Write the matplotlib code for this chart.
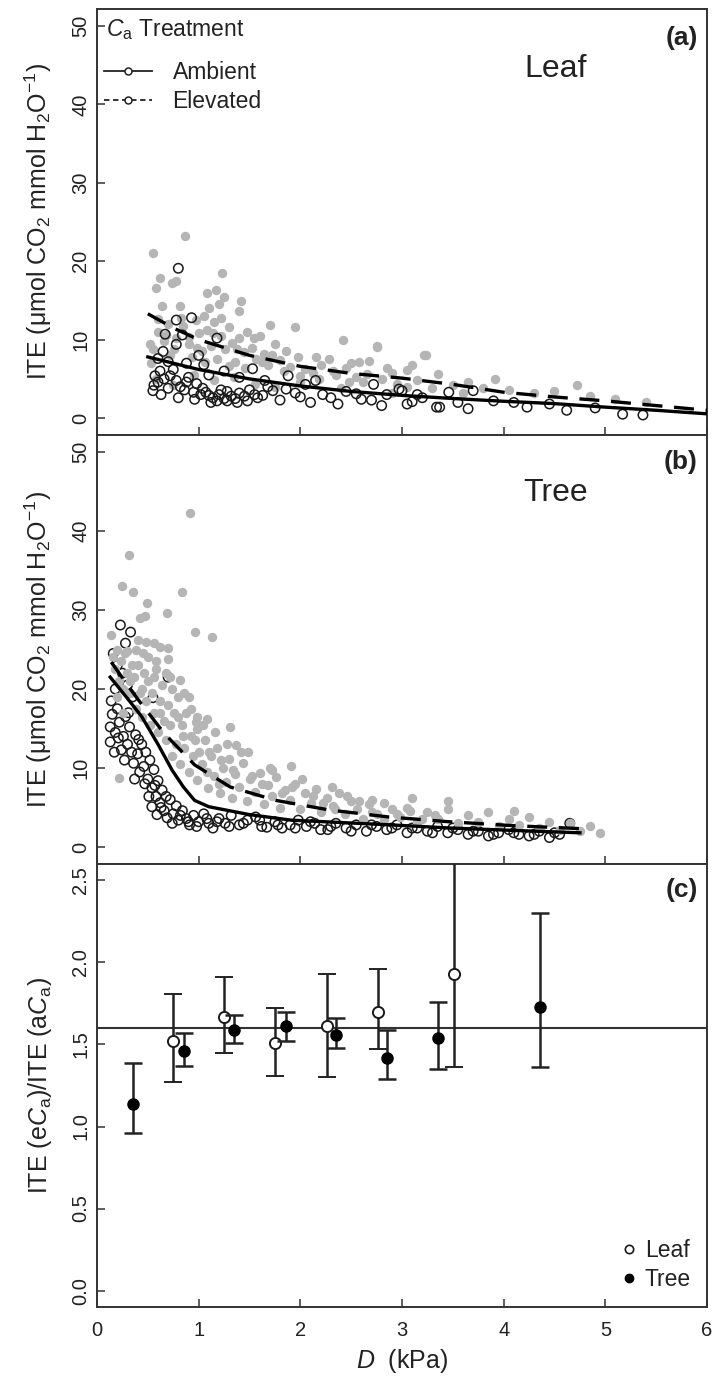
import matplotlib
matplotlib.use('Agg')
import matplotlib.pyplot as plt
from matplotlib.lines import Line2D
import numpy as np

plt.rcParams['font.family'] = ['Liberation Sans', 'DejaVu Sans']
plt.rcParams['mathtext.fontset'] = 'custom'
plt.rcParams['mathtext.rm'] = 'Liberation Sans'
plt.rcParams['mathtext.it'] = 'Liberation Sans:italic'
plt.rcParams['mathtext.bf'] = 'Liberation Sans:bold'

# ---- panel (a) leaf ----
leaf_e_D = [0.55, 0.87, 0.58, 0.62, 0.74, 0.78, 0.64, 0.82, 1.23, 1.08, 1.17, 1.25, 1.42, 1.40, 1.10, 1.20,
            1.70, 1.95, 2.42, 2.75, 2.15, 2.28, 3.22, 3.10, 2.50, 2.58, 2.68, 2.75, 3.24, 3.91, 4.72, 2.90, 3.05,
            0.52, 0.55, 0.60, 0.66, 0.70, 0.72, 0.78, 0.85, 0.90, 0.93, 0.97, 1.00, 1.03, 1.05, 1.08, 1.12,
            1.15, 1.18, 1.22, 1.26, 1.30, 1.33, 1.36, 1.40, 1.45, 1.48, 1.52, 1.56, 1.60, 1.64, 1.68, 1.75,
            1.80, 1.86, 1.90, 1.98, 2.05, 2.12, 2.20, 2.35, 2.45, 2.55, 2.62, 2.80, 2.95, 3.15, 3.35, 3.50,
            3.65, 3.80, 4.05, 4.30, 4.50, 4.85, 5.10, 5.40,
            0.58, 0.75, 0.95, 1.15, 1.35, 1.55, 1.75, 2.00, 2.40, 2.90,
            0.53, 0.60, 0.68, 0.76, 0.83, 0.90, 0.98, 1.06, 1.14, 1.22, 1.30, 1.38, 1.46, 1.54, 1.62, 1.72,
            1.84, 2.00, 2.18, 2.32, 2.48, 2.66, 2.85, 3.05, 3.30, 3.60]
leaf_e_ite = [21.0, 23.2, 16.6, 17.8, 17.2, 17.5, 14.3, 14.3, 18.5, 15.9, 16.3, 15.4, 14.9, 13.6, 14.0, 14.5,
              11.9, 11.6, 9.9, 9.1, 7.8, 7.6, 8.1, 6.8, 7.0, 7.2, 7.3, 9.2, 8.1, 5.0, 4.2, 5.8, 6.1,
              9.5, 8.8, 11.0, 9.8, 12.0, 8.0, 10.2, 11.8, 9.5, 7.8, 12.5, 10.8, 8.6, 13.0, 11.2, 9.2,
              12.2, 7.5, 10.5, 8.8, 11.6, 9.6, 7.2, 10.2, 8.4, 11.0, 9.0, 7.6, 10.5, 8.2, 6.8, 9.4,
              7.4, 8.6, 6.5, 7.8, 6.2, 5.8, 6.8, 5.5, 6.4, 5.2, 4.6, 5.0, 4.4, 4.8, 5.6, 4.2,
              4.6, 3.8, 3.6, 3.2, 3.4, 2.8, 2.4, 2.0,
              5.0, 4.2, 5.5, 4.8, 5.2, 4.4, 4.0, 4.6, 3.8, 3.2,
              7.0, 12.6, 10.6, 8.8, 12.8, 10.4, 9.0, 7.2, 10.8, 12.8, 6.6, 8.8, 6.4, 10.2, 7.2, 8.0,
              6.0, 5.4, 5.0, 6.0, 4.6, 5.6, 6.4, 4.0, 3.8, 3.2]

leaf_a_D = [0.55, 0.57, 0.60, 0.62, 0.66, 0.70, 0.75, 0.78, 0.82, 0.86, 0.90, 0.95, 0.98, 1.02, 1.07, 1.10,
            1.14, 1.18, 1.22, 1.25, 1.28, 1.32, 1.36, 1.40, 1.45, 1.50, 1.55, 1.63, 1.73, 1.86, 2.00, 2.05,
            2.15, 2.22, 2.37, 2.45, 2.60, 2.70, 2.72, 2.85, 2.97, 3.00, 3.05, 3.10, 3.20, 3.34, 3.37, 3.46,
            3.65, 3.70, 3.90, 4.10, 4.23, 4.45, 4.62, 4.90, 5.17, 5.37,
            0.78, 0.93, 0.67, 0.84, 1.18, 0.78, 0.65, 1.53, 1.88, 0.80, 0.70, 1.00, 1.05, 1.25, 1.40, 0.88,
            1.65, 1.10, 0.60,
            0.56, 0.63, 0.72, 0.80, 0.88, 0.96, 1.04, 1.12, 1.20, 1.28, 1.38, 1.48, 1.58, 1.68, 1.80, 1.95,
            2.10, 2.30, 2.55, 2.80, 3.15, 3.55]
leaf_a_ite = [3.5, 5.4, 4.6, 6.0, 5.0, 3.8, 6.2, 4.8, 4.0, 3.6, 5.2, 3.3, 4.4, 3.0, 3.3, 2.9,
              2.6, 2.2, 3.6, 2.5, 2.2, 2.8, 2.5, 3.2, 2.8, 3.6, 3.0, 2.9, 3.5, 3.7, 2.7, 4.3,
              4.8, 3.0, 1.8, 3.4, 2.4, 2.3, 4.3, 3.0, 3.7, 3.5, 1.8, 2.1, 2.6, 1.4, 1.4, 3.3,
              1.2, 3.5, 2.2, 2.0, 1.4, 1.8, 1.0, 1.3, 0.5, 0.4,
              12.5, 12.8, 10.7, 10.6, 10.2, 9.4, 8.5, 6.3, 5.4, 19.1, 7.2, 8.0, 6.8, 6.0, 5.2, 7.0,
              4.8, 5.5, 7.6,
              4.2, 3.0, 5.4, 2.6, 4.6, 2.4, 3.8, 2.0, 3.0, 3.4, 2.0, 2.2, 2.6, 4.0, 2.3, 3.2,
              2.0, 2.6, 3.1, 1.6, 3.0, 2.0]

leaf_fit_D = [0.5, 0.75, 1.0, 1.5, 2.0, 2.5, 3.0, 3.5, 4.0, 4.5, 5.0, 5.5, 6.0]
leaf_fit_amb = [7.8, 7.0, 6.2, 5.0, 4.1, 3.4, 2.9, 2.5, 2.15, 1.85, 1.4, 1.0, 0.55]
leaf_fit_elev = [13.3, 11.5, 10.0, 8.0, 6.6, 5.7, 5.1, 4.3, 3.3, 2.7, 2.2, 1.6, 1.0]

# ---- panel (b) tree ----
tree_e_D = [0.91, 0.31, 0.25, 0.35, 0.84, 0.49, 0.69, 0.42, 0.47, 0.96, 1.13, 0.14, 0.40, 0.48, 0.56, 0.62,
            0.70, 0.70, 0.82, 0.90, 0.98, 1.08, 1.31, 1.37, 1.49, 1.70, 1.91, 2.31, 3.10, 0.22,
            0.16, 0.18, 0.20, 0.22, 0.24, 0.26, 0.28, 0.30, 0.32, 0.34,
            0.36, 0.38, 0.40, 0.42, 0.44, 0.46, 0.48, 0.50, 0.52, 0.54, 0.56, 0.58, 0.60, 0.62, 0.64, 0.66,
            0.68, 0.70, 0.72, 0.74, 0.76, 0.78, 0.80, 0.82, 0.84, 0.86, 0.88, 0.90, 0.92, 0.94, 0.96, 0.98, 1.00,
            1.03, 1.06, 1.09, 1.12, 1.15, 1.18, 1.21, 1.24, 1.27, 1.30, 1.33, 1.36, 1.40, 1.44, 1.48, 1.50,
            1.55, 1.60, 1.64, 1.68, 1.72, 1.76, 1.80, 1.85, 1.90, 1.95, 2.00, 2.05, 2.10, 2.15, 2.20, 2.26,
            2.32, 2.38, 2.44, 2.50,
            2.56, 2.62, 2.68, 2.75, 2.82, 2.90, 2.98, 3.05, 3.15, 3.25, 3.35, 3.45, 3.55, 3.65, 3.75, 3.85,
            3.95, 4.05, 4.15, 4.25, 4.35, 4.45, 4.55, 4.65, 4.75, 4.85, 4.95, 3.45, 4.10, 2.70,
            0.20, 0.26, 0.32, 0.38, 0.44, 0.50, 0.56, 0.62, 0.68, 0.74, 0.80, 0.86, 0.92, 0.98, 1.04, 1.10,
            1.16, 1.22, 1.28, 1.34, 1.42, 1.52, 1.62, 1.72, 1.82, 1.92, 2.02, 2.12, 2.22, 2.34, 2.46, 2.58,
            2.70, 2.82, 2.95, 3.08, 3.20, 3.32, 0.30, 0.45, 0.58, 0.72, 0.85, 0.97, 1.08, 1.20]
tree_e_ite = [42.3, 37.0, 33.0, 32.3, 32.3, 30.9, 29.6, 29.0, 29.2, 27.2, 26.6, 26.8, 26.2, 26.0, 25.8, 25.3,
              25.2, 23.8, 21.1, 19.0, 16.5, 16.2, 15.2, 12.9, 12.0, 10.0, 10.2, 7.6, 6.2, 8.7,
              24.0, 22.5, 25.0, 21.0, 23.5, 20.0, 24.5, 22.0, 19.5, 23.0,
              21.5, 17.5, 23.0, 19.5, 16.5, 22.0, 18.5, 21.0, 15.5, 19.5, 17.0, 22.5, 14.5, 18.5, 20.5, 16.0,
              13.5, 18.0, 15.5, 11.5, 17.0, 13.0, 19.0, 10.5, 15.5, 12.5, 17.0, 9.5, 14.0, 11.5, 13.5, 8.5, 12.0,
              10.5, 13.5, 7.5, 11.5, 9.0, 12.5, 6.8, 10.0, 8.2, 11.2, 6.2, 9.2, 7.6, 10.6, 5.8, 8.6,
              7.0, 9.4, 5.4, 7.8, 6.4, 8.8, 5.0, 7.2, 6.0, 8.0, 4.8, 6.8, 5.6, 7.4, 4.4, 6.2,
              5.2, 6.8, 4.2, 5.8,
              4.8, 3.6, 5.4, 4.2, 3.4, 4.8, 3.8, 5.0, 3.2, 4.4, 3.6, 4.8, 3.0, 4.0, 3.2, 4.4,
              2.6, 3.6, 2.8, 3.8, 2.4, 3.2, 2.2, 3.0, 2.0, 2.6, 1.8, 5.8, 4.6, 6.0,
              19.0, 17.0, 21.0, 25.0, 20.0, 24.0, 21.5, 17.0, 22.0, 20.0, 16.5, 19.5, 17.5, 15.0, 15.5, 12.0,
              14.5, 11.0, 13.0, 9.8, 12.0, 9.0, 8.0, 9.8, 6.8, 7.6, 8.6, 6.4, 5.6, 4.8, 6.4, 5.8,
              4.4, 5.6, 4.2, 4.6, 3.6, 4.0, 24.8, 24.5, 23.5, 21.5, 14.0, 15.8, 9.5, 8.0]

tree_a_D = [0.23, 0.33, 0.28, 0.70, 0.55, 0.16, 0.20, 0.25, 0.30, 0.18, 0.35,
            0.13, 0.13, 0.24, 0.36, 0.42, 0.15, 0.18, 0.20, 0.22, 0.26, 0.28, 0.30, 0.32, 0.34, 0.38, 0.40,
            0.44, 0.46, 0.48, 0.50, 0.52, 0.54, 0.56, 0.58, 0.60, 0.54, 0.59, 0.62, 0.64, 0.66, 0.69, 0.72,
            0.75, 0.78, 0.80, 0.84, 0.88, 0.91, 0.95, 1.00, 1.05, 1.10, 1.14, 1.20, 1.26, 1.32, 1.40, 1.48,
            1.56, 1.62, 1.67, 1.75, 1.82, 1.90, 1.98, 2.06, 2.14, 2.20, 2.27, 2.35, 2.45, 2.55, 2.65, 2.75,
            2.85, 2.95, 3.05, 3.15, 3.25, 3.35, 3.45, 3.55, 3.65, 3.75, 3.85, 3.95, 4.05, 4.15, 4.25, 4.35,
            4.45, 4.55, 4.65,
            0.14, 0.17, 0.21, 0.27, 0.31, 0.37, 0.41, 0.47, 0.51, 0.57, 0.63, 0.68, 0.74, 0.82, 0.90, 0.98,
            1.08, 1.18, 1.30, 1.44, 1.60, 1.78, 1.95, 2.10, 2.30, 2.50, 2.70, 2.90, 3.10, 3.30, 3.50, 3.70,
            3.90, 4.10, 4.30, 4.50]
tree_a_ite = [28.1, 27.2, 25.8, 21.5, 18.9, 24.5, 23.0, 22.0, 20.5, 20.0, 19.0,
              15.2, 13.3, 12.3, 10.6, 9.5, 16.8, 14.5, 17.5, 15.8, 14.0, 16.5, 13.0, 15.2, 12.0, 14.2, 11.8,
              13.0, 10.2, 12.0, 8.6, 11.0, 7.5, 9.8, 6.4, 8.4, 5.1, 4.1, 5.6, 7.2, 4.6, 3.7, 6.0,
              4.2, 5.2, 3.4, 4.6, 3.6, 2.8, 4.0, 3.2, 4.2, 3.0, 2.4, 3.6, 3.0, 4.0, 2.8, 3.4,
              3.8, 2.6, 2.5, 3.2, 2.4, 2.8, 3.4, 2.6, 3.0, 2.2, 2.2, 3.0, 2.4, 2.8, 2.0, 2.6,
              2.2, 2.8, 1.8, 2.4, 2.0, 2.6, 1.8, 2.2, 1.6, 2.0, 1.4, 1.8, 2.2, 1.6, 1.4, 2.0,
              1.2, 1.6, 3.0,
              18.5, 12.0, 13.8, 11.0, 17.0, 8.6, 13.6, 8.0, 6.4, 7.8, 5.0, 6.4, 3.0, 4.0, 3.2, 2.6,
              3.6, 3.2, 2.6, 3.0, 3.4, 2.8, 2.4, 3.2, 2.6, 2.0, 2.8, 2.4, 2.4, 1.8, 2.4, 2.0,
              1.6, 1.8, 1.6, 1.8]

tree_fit_amb_D = [0.13, 0.3, 0.44, 0.6, 0.74, 0.85, 0.96, 1.1, 1.26, 1.5, 1.91, 2.4, 2.89, 3.48, 4.1, 4.75]
tree_fit_amb = [21.5, 18.8, 16.5, 13.0, 9.7, 7.6, 5.9, 5.1, 4.7, 4.1, 3.4, 3.1, 2.8, 2.4, 2.1, 1.8]
tree_fit_elev_D = [0.14, 0.39, 0.66, 0.96, 1.31, 1.76, 2.28, 2.87, 3.46, 4.1, 4.8]
tree_fit_elev = [23.4, 18.9, 14.4, 10.4, 7.6, 5.9, 4.7, 3.8, 3.2, 2.7, 2.3]

# ---- panel (c) ratio ----
ratio_leaf_D = [0.75, 1.25, 1.75, 2.26, 2.76, 3.51]
ratio_leaf = [1.52, 1.67, 1.51, 1.61, 1.70, 1.93]
ratio_leaf_lo = [1.27, 1.45, 1.31, 1.30, 1.47, 1.36]
ratio_leaf_hi = [1.81, 1.91, 1.72, 1.93, 1.96, 2.75]
ratio_tree_D = [0.35, 0.86, 1.35, 1.86, 2.35, 2.85, 3.35, 4.36]
ratio_tree = [1.14, 1.46, 1.59, 1.61, 1.56, 1.42, 1.54, 1.73]
ratio_tree_lo = [0.96, 1.37, 1.51, 1.52, 1.48, 1.29, 1.35, 1.36]
ratio_tree_hi = [1.39, 1.57, 1.68, 1.70, 1.66, 1.59, 1.76, 2.30]
ratio_ref = 1.6

W, H = 714, 1383
fig = plt.figure(figsize=(W / 100, H / 100), dpi=100)


def rect(top, bottom):
    return [97 / W, 1 - bottom / H, 610 / W, (bottom - top) / H]


ax_a = fig.add_axes(rect(9, 435))
ax_b = fig.add_axes(rect(435, 864))
ax_c = fig.add_axes(rect(864, 1307))

txt = '#222222'
grey = '#b5b5b5'
ylab = 'ITE (μmol CO$_2$ mmol H$_2$O$^{-1}$)'

for ax in (ax_a, ax_b, ax_c):
    ax.set_xlim(0, 6)
    ax.set_xticks(range(7))
    ax.tick_params(direction='in', length=6, width=1.1, colors='#333333', labelcolor=txt, labelsize=14.5)
    ax.tick_params(axis='y', pad=5)
    for s in ax.spines.values():
        s.set_linewidth(1.4)
        s.set_color('#333333')

for ax in (ax_a, ax_b):
    ax.set_ylim(-2.15, 52.15)
    ax.set_yticks([0, 10, 20, 30, 40, 50])
    ax.tick_params(axis='x', labelbottom=False)
    ax.set_ylabel(ylab, fontsize=18, color=txt)
    ax.yaxis.set_label_coords(-0.07, 0.5)

# (a)
ax_a.scatter(leaf_e_D, leaf_e_ite, s=46, color=grey, linewidths=0, zorder=2)
ax_a.scatter(leaf_a_D, leaf_a_ite, s=46, facecolors='none', edgecolors='#1a1a1a', linewidths=1.1, zorder=3)
ax_a.plot(leaf_fit_D, leaf_fit_amb, color='black', lw=2.4, zorder=4)
ax_a.plot(leaf_fit_D, leaf_fit_elev, color='black', lw=2.4, ls=(0, (6, 3.5)), zorder=4)
ax_a.text(0.015, 0.982, '$C_\\mathrm{a}$ Treatment', transform=ax_a.transAxes, ha='left', va='top',
          fontsize=16.5, color=txt)
handles = [Line2D([], [], color='#222', lw=1.3, marker='o', ms=5, mfc='white', mew=1.1),
           Line2D([], [], color='#222', lw=1.3, ls=(0, (3, 2)), marker='o', ms=5, mfc='white', mew=1.1)]
ax_a.legend(handles, ['Ambient', 'Elevated'], loc='upper left', bbox_to_anchor=(0.0, 0.895),
            frameon=False, fontsize=16.5, handlelength=2.1, handletextpad=0.9, labelspacing=0.3,
            borderpad=0, borderaxespad=0.3, labelcolor=txt)
ax_a.text(0.752, 0.895, 'Leaf', transform=ax_a.transAxes, ha='center', va='top', fontsize=23, color=txt)
ax_a.text(0.985, 0.96, '(a)', transform=ax_a.transAxes, ha='right', va='top', fontsize=19,
          fontweight='bold', color=txt)

# (b)
ax_b.scatter(tree_a_D, tree_a_ite, s=46, facecolors='none', edgecolors='#1a1a1a', linewidths=1.1, zorder=2)
ax_b.scatter(tree_e_D, tree_e_ite, s=46, color=grey, linewidths=0, zorder=3)
ax_b.plot(tree_fit_amb_D, tree_fit_amb, color='black', lw=2.4, zorder=4)
ax_b.plot(tree_fit_elev_D, tree_fit_elev, color='black', lw=2.4, ls=(0, (6, 3.5)), zorder=4)
ax_b.text(0.752, 0.9, 'Tree', transform=ax_b.transAxes, ha='center', va='top', fontsize=23, color=txt)
ax_b.text(0.985, 0.965, '(b)', transform=ax_b.transAxes, ha='right', va='top', fontsize=19,
          fontweight='bold', color=txt)

# (c)
ax_c.set_ylim(-0.1, 2.6)
ax_c.set_yticks([0, 0.5, 1.0, 1.5, 2.0, 2.5])
ax_c.set_yticklabels(['0.0', '0.5', '1.0', '1.5', '2.0', '2.5'])
ax_c.axhline(ratio_ref, color='#333333', lw=1.5, zorder=1)
leaf_err = [np.subtract(ratio_leaf, ratio_leaf_lo), np.subtract(ratio_leaf_hi, ratio_leaf)]
tree_err = [np.subtract(ratio_tree, ratio_tree_lo), np.subtract(ratio_tree_hi, ratio_tree)]
ax_c.errorbar(ratio_leaf_D, ratio_leaf, yerr=leaf_err, fmt='o', ms=8, mfc='white', mec='#1a1a1a', mew=1.4,
              ecolor='#222', elinewidth=1.8, capsize=6.5, capthick=1.8, zorder=3, label='Leaf')
ax_c.errorbar(ratio_tree_D, ratio_tree, yerr=tree_err, fmt='o', ms=8, mfc='black', mec='black',
              ecolor='#222', elinewidth=1.8, capsize=6.5, capthick=1.8, zorder=4, label='Tree')
leg_h = [Line2D([], [], ls='none', marker='o', ms=6, mfc='white', mec='#1a1a1a', mew=1.2),
         Line2D([], [], ls='none', marker='o', ms=6, mfc='black', mec='black')]
ax_c.legend(leg_h, ['Leaf', 'Tree'], loc='lower right', frameon=False, fontsize=16.5, handlelength=0.6,
            handletextpad=0.4, labelspacing=0.25, borderaxespad=0.3, labelcolor=txt)
ax_c.set_ylabel('ITE (e$C_\\mathrm{a}$)/ITE (a$C_\\mathrm{a}$)', fontsize=18, color=txt)
ax_c.yaxis.set_label_coords(-0.07, 0.5)
ax_c.set_xlabel('$D$  (kPa)', fontsize=18, color=txt, labelpad=5)
ax_c.tick_params(axis='x', pad=10)
ax_c.text(0.985, 0.968, '(c)', transform=ax_c.transAxes, ha='right', va='top', fontsize=19,
          fontweight='bold', color=txt)

for ax in (ax_a, ax_b, ax_c):
    plt.setp(ax.get_yticklabels(), rotation=90, va='center')

fig.savefig('out.png', dpi=100)
